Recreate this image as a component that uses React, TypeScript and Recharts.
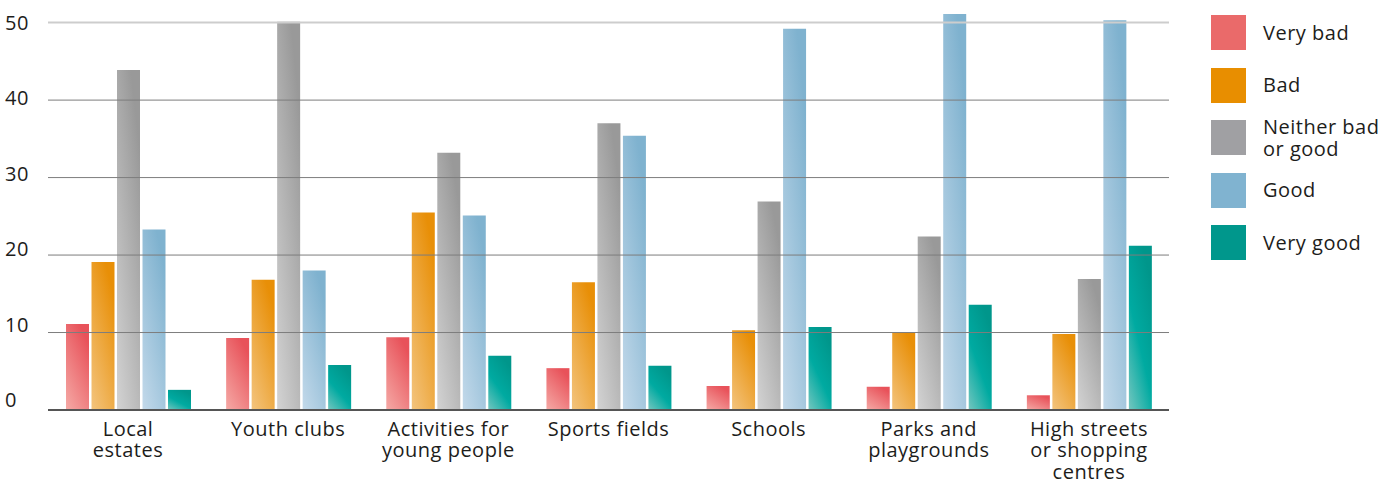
import React from 'react';
import { BarChart, Bar, XAxis, YAxis, ReferenceLine } from 'recharts';

// categories along the x axis (\n = line break in the label)
const categories = [
  'Local\nestates',
  'Youth clubs',
  'Activities for\nyoung people',
  'Sports fields',
  'Schools',
  'Parks and\nplaygrounds',
  'High streets\nor shopping\ncentres',
];

// values
const veryBad = [11.1, 9.3, 9.4, 5.4, 3.1, 3.0, 1.9];
const bad = [19.1, 16.8, 25.5, 16.5, 10.3, 10.0, 9.8];
const neither = [43.9, 50.1, 33.2, 37.0, 26.9, 22.4, 16.9];
const good = [23.3, 18.0, 25.1, 35.4, 49.2, 51.1, 50.3];
const veryGood = [2.6, 5.8, 7.0, 5.7, 10.7, 13.6, 21.2];

const yTicks = [0, 10, 20, 30, 40, 50];
const frameTicks = [0, 1, 2, 3, 4, 5, 6, 7];

const FONT = '"Open Sans", sans-serif';
const TEXT = '#1d1d1b';

const series = [
  { key: 'veryBad', label: 'Very bad', swatch: '#ea6a6a', stops: ['#e8525a', '#f5aaa6'] },
  { key: 'bad', label: 'Bad', swatch: '#e88e00', stops: ['#e88f07', '#f3c47e'] },
  { key: 'neither', label: 'Neither bad\nor good', swatch: '#a0a0a3', stops: ['#999999', '#d3d3d3'] },
  { key: 'good', label: 'Good', swatch: '#80b3d0', stops: ['#7fb2cf', '#c3d9ea'] },
  { key: 'veryGood', label: 'Very good', swatch: '#00978c', stops: ['#00968b', '#00aaa1', '#74c6bf'] },
];

const data = categories.map((name, i) => ({
  name,
  veryBad: veryBad[i],
  bad: bad[i],
  neither: neither[i],
  good: good[i],
  veryGood: veryGood[i],
}));

const CategoryTick = (props: any) => {
  const { x, y, payload } = props;
  const lines = String(payload.value).split('\n');
  return (
    <g>
      {lines.map((l, i) => (
        <text
          key={i}
          x={x}
          y={y + 17.5 + i * 21.5}
          textAnchor="middle"
          fill={TEXT}
          fontSize={20}
          fontFamily={FONT}
          letterSpacing={0.5}
        >
          {l}
        </text>
      ))}
    </g>
  );
};

// labels sit a little above their grid lines, more so near the bottom
const ValueTick = (props: any) => {
  const { y, payload } = props;
  return (
    <text
      x={5}
      y={y - 3 + payload.value * 0.2}
      textAnchor="start"
      fill={TEXT}
      fontSize={20}
      fontFamily={FONT}
      letterSpacing={0.5}
    >
      {payload.value}
    </text>
  );
};

const LegendBox = () => (
  <div style={{ position: 'absolute', left: 1211, top: 15, display: 'flex', flexDirection: 'column', gap: 17.5 }}>
    {series.map(s => (
      <div key={s.key} style={{ display: 'flex', alignItems: 'center', height: 35 }}>
        <div style={{ width: 35, height: 35, background: s.swatch, flexShrink: 0 }} />
        <div style={{
          marginLeft: 17, fontFamily: FONT, fontSize: 20, letterSpacing: 0.5, color: TEXT,
          lineHeight: '22px', whiteSpace: 'pre',
        }}>
          {s.label}
        </div>
      </div>
    ))}
  </div>
);

export default function App() {
  return (
    <div style={{ position: 'absolute', left: 0, top: 0, width: 1395, height: 484, overflow: 'hidden' }}>
      <BarChart
        width={1395}
        height={484}
        data={data}
        margin={{ top: 11, right: 226, bottom: 0, left: 0 }}
        barSize={23}
        barGap={2.5}
      >
        <defs>
          {series.map(s => (
            <linearGradient key={s.key} id={`grad-${s.key}`} x1="0.6" y1="0" x2="0" y2="1">
              {s.stops.map((c, i) => (
                <stop key={i} offset={i / (s.stops.length - 1)} stopColor={c} />
              ))}
            </linearGradient>
          ))}
        </defs>
        <XAxis
          xAxisId="frame"
          type="number"
          domain={[0, 7]}
          ticks={frameTicks}
          allowDataOverflow
          height={0}
          mirror
          tickSize={12}
          tick={false}
          axisLine={false}
          tickLine={{ stroke: '#888', strokeWidth: 1.5 }}
        />
        <XAxis
          xAxisId="cat"
          dataKey="name"
          height={74}
          interval={0}
          tickLine={false}
          axisLine={{ stroke: '#555', strokeWidth: 2 }}
          tick={<CategoryTick />}
        />
        <YAxis
          width={48}
          domain={[0, 51.5]}
          ticks={yTicks}
          allowDataOverflow
          axisLine={false}
          tickLine={false}
          tick={<ValueTick />}
        />
        {series.map(s => (
          <Bar key={s.key} xAxisId="cat" dataKey={s.key} fill={`url(#grad-${s.key})`} isAnimationActive={false} />
        ))}
        {yTicks.filter(v => v > 0).map(v => (
          <ReferenceLine
            key={v}
            xAxisId="cat"
            y={v}
            stroke={v === 50 ? '#cdcdcd' : '#7d7d7d'}
            strokeWidth={v === 50 ? 2 : 1}
          />
        ))}
      </BarChart>
      <LegendBox />
    </div>
  );
}
